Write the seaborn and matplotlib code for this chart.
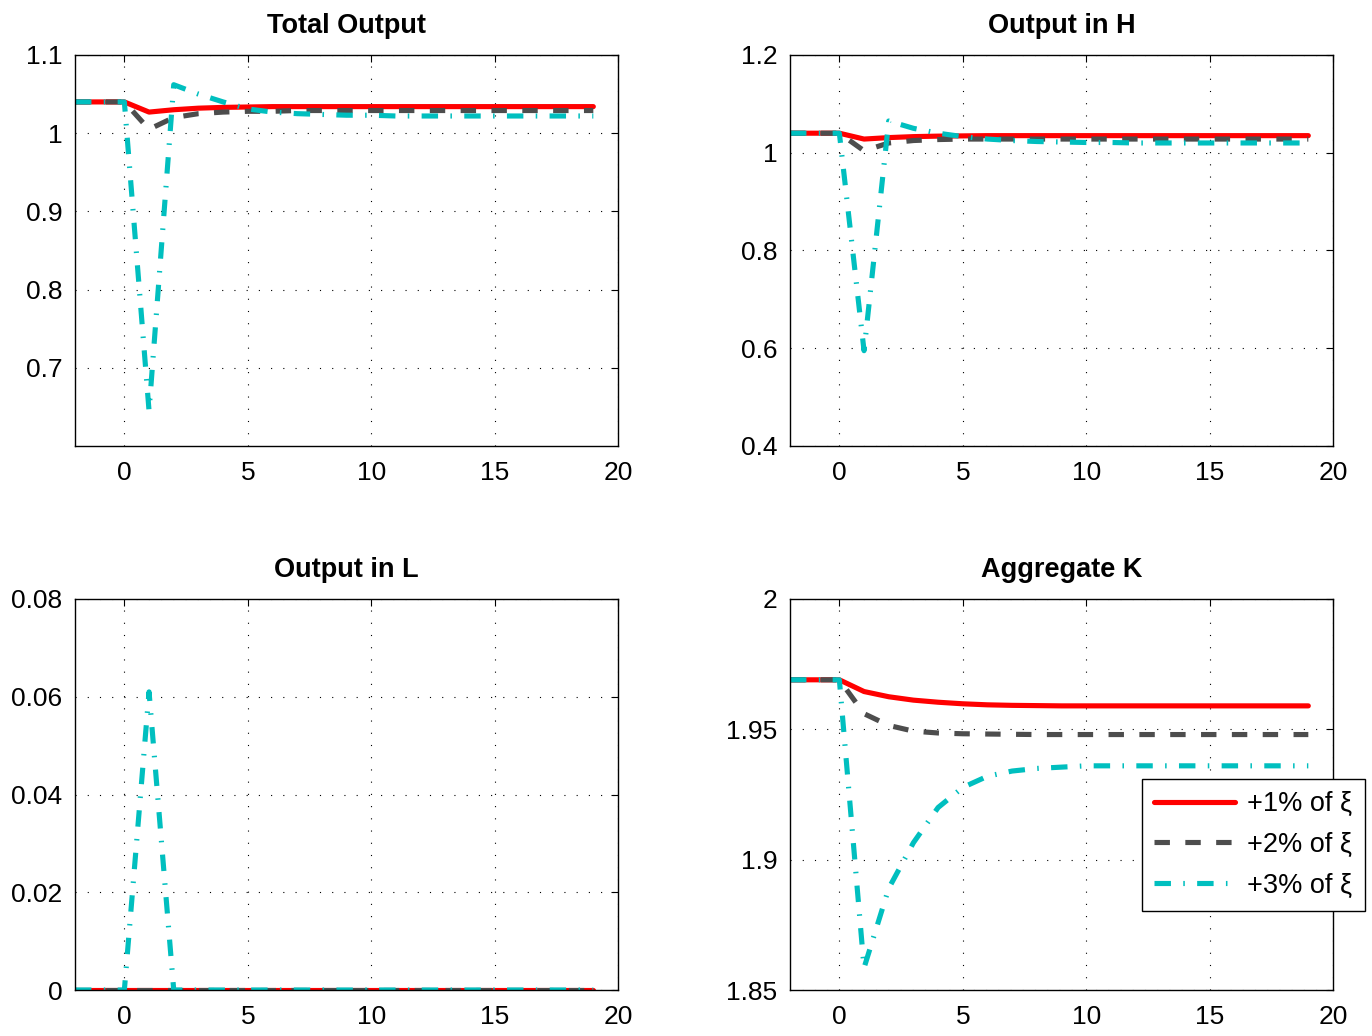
import matplotlib
matplotlib.use("Agg")
import matplotlib.pyplot as plt
import numpy as np
import pandas as pd
import seaborn as sns

# periods: two pre-shock periods, shock at 0
periods = list(range(-2, 20))
shocks = ["+1% of ξ", "+2% of ξ", "+3% of ξ"]

total_1 = [1.04, 1.04, 1.04, 1.027, 1.030, 1.032, 1.033, 1.0335, 1.034, 1.034, 1.034, 1.034,
           1.034, 1.034, 1.034, 1.034, 1.034, 1.034, 1.034, 1.034, 1.034, 1.034]
total_2 = [1.04, 1.04, 1.04, 1.005, 1.020, 1.025, 1.027, 1.028, 1.028, 1.029, 1.029, 1.029,
           1.029, 1.029, 1.029, 1.029, 1.029, 1.029, 1.029, 1.029, 1.029, 1.029]
total_3 = [1.04, 1.04, 1.04, 0.645, 1.062, 1.050, 1.040, 1.031, 1.027, 1.025, 1.024, 1.023,
           1.023, 1.022, 1.022, 1.022, 1.022, 1.022, 1.022, 1.022, 1.022, 1.022]

h_1 = [1.04, 1.04, 1.04, 1.028, 1.031, 1.033, 1.034, 1.0345, 1.035, 1.035, 1.035, 1.035,
       1.035, 1.035, 1.035, 1.035, 1.035, 1.035, 1.035, 1.035, 1.035, 1.035]
h_2 = [1.04, 1.04, 1.04, 1.004, 1.020, 1.025, 1.027, 1.028, 1.028, 1.028, 1.028, 1.028,
       1.028, 1.028, 1.028, 1.028, 1.028, 1.028, 1.028, 1.028, 1.028, 1.028]
h_3 = [1.04, 1.04, 1.04, 0.595, 1.065, 1.050, 1.040, 1.033, 1.028, 1.025, 1.023, 1.022,
       1.021, 1.021, 1.020, 1.020, 1.020, 1.020, 1.020, 1.020, 1.020, 1.020]

l_1 = [0.0] * 22
l_2 = [0.0] * 22
l_3 = [0.0, 0.0, 0.0, 0.061, 0.0, 0.0, 0.0, 0.0, 0.0, 0.0, 0.0, 0.0,
       0.0, 0.0, 0.0, 0.0, 0.0, 0.0, 0.0, 0.0, 0.0, 0.0]

k_1 = [1.969, 1.969, 1.969, 1.9645, 1.9625, 1.9612, 1.9604, 1.9598, 1.9594, 1.9592, 1.9591, 1.959,
       1.959, 1.959, 1.959, 1.959, 1.959, 1.959, 1.959, 1.959, 1.959, 1.959]
k_2 = [1.969, 1.969, 1.969, 1.956, 1.9515, 1.9493, 1.9486, 1.9483, 1.9482, 1.9481, 1.948, 1.948,
       1.948, 1.948, 1.948, 1.948, 1.948, 1.948, 1.948, 1.948, 1.948, 1.948]
k_3 = [1.969, 1.969, 1.969, 1.8585, 1.889, 1.9065, 1.920, 1.9277, 1.932, 1.934, 1.935, 1.9355,
       1.936, 1.936, 1.936, 1.936, 1.936, 1.936, 1.936, 1.936, 1.936, 1.936]

panels = [
    ("Total Output", [total_1, total_2, total_3], (0.6, 1.1), [0.7, 0.8, 0.9, 1.0, 1.1], ["0.7", "0.8", "0.9", "1", "1.1"]),
    ("Output in H", [h_1, h_2, h_3], (0.4, 1.2), [0.4, 0.6, 0.8, 1.0, 1.2], ["0.4", "0.6", "0.8", "1", "1.2"]),
    ("Output in L", [l_1, l_2, l_3], (0.0, 0.08), [0.0, 0.02, 0.04, 0.06, 0.08], ["0", "0.02", "0.04", "0.06", "0.08"]),
    ("Aggregate K", [k_1, k_2, k_3], (1.85, 2.0), [1.85, 1.9, 1.95, 2.0], ["1.85", "1.9", "1.95", "2"]),
]
x_ticks = [0, 5, 10, 15, 20]

palette = {shocks[0]: "#ff0000", shocks[1]: "#4d4d4d", shocks[2]: "#00bfbf"}
dashes = {shocks[0]: "", shocks[1]: (3, 3), shocks[2]: (3.2, 2.4, 0.3, 2.4)}

sns.set_theme(style="white")
plt.rcParams["font.family"] = ["Liberation Sans", "DejaVu Sans"]
plt.rcParams["text.color"] = "black"
plt.rcParams["axes.labelcolor"] = "black"

fig = plt.figure(figsize=(13.72, 10.36), dpi=100)
W, H = 1372, 1036
boxes = [(75, 55), (790, 55), (75, 599), (790, 599)]
aw, ah = 543, 391

for (title, series, ylim, yt, ytl), (px, py) in zip(panels, boxes):
    ax = fig.add_axes([px / W, 1 - (py + ah) / H, aw / W, ah / H])
    df = pd.DataFrame({
        "t": periods * 3,
        "value": series[0] + series[1] + series[2],
        "shock": [s for s in shocks for _ in periods],
    })
    sns.lineplot(data=df, x="t", y="value", hue="shock", style="shock",
                 palette=palette, dashes=dashes, hue_order=shocks, style_order=shocks,
                 linewidth=3.7, ax=ax, legend=(title == "Aggregate K"))
    ax.set_xlim(-2, 20)
    ax.set_ylim(*ylim)
    ax.set_xticks(x_ticks)
    ax.set_xticklabels([str(v) for v in x_ticks])
    ax.set_yticks(yt)
    ax.set_yticklabels(ytl)
    ax.set_xlabel("")
    ax.set_ylabel("")
    ax.set_title(title, fontsize=19.5, fontweight="bold", pad=16, color="black")
    ax.grid(True, linestyle=(0, (1, 10)), color="black", linewidth=0.8)
    ax.tick_params(direction="in", length=5, width=0.8, colors="black",
                   labelsize=19, top=True, right=True, pad=9)
    ax.tick_params(axis="x", pad=11)
    for sp in ax.spines.values():
        sp.set_visible(True)
        sp.set_color("black")
        sp.set_linewidth(1.0)
    if title == "Aggregate K":
        leg = ax.legend(loc="upper left", bbox_to_anchor=(0.648, 0.540), borderaxespad=0,
                        fontsize=19.5, handlelength=3.0, handletextpad=0.45,
                        labelspacing=0.55, borderpad=0.45, frameon=True,
                        fancybox=False, edgecolor="black", framealpha=1)
        leg.get_frame().set_linewidth(1.0)
        for line in leg.get_lines():
            line.set_linewidth(3.7)

fig.savefig("out.png", dpi=100)
